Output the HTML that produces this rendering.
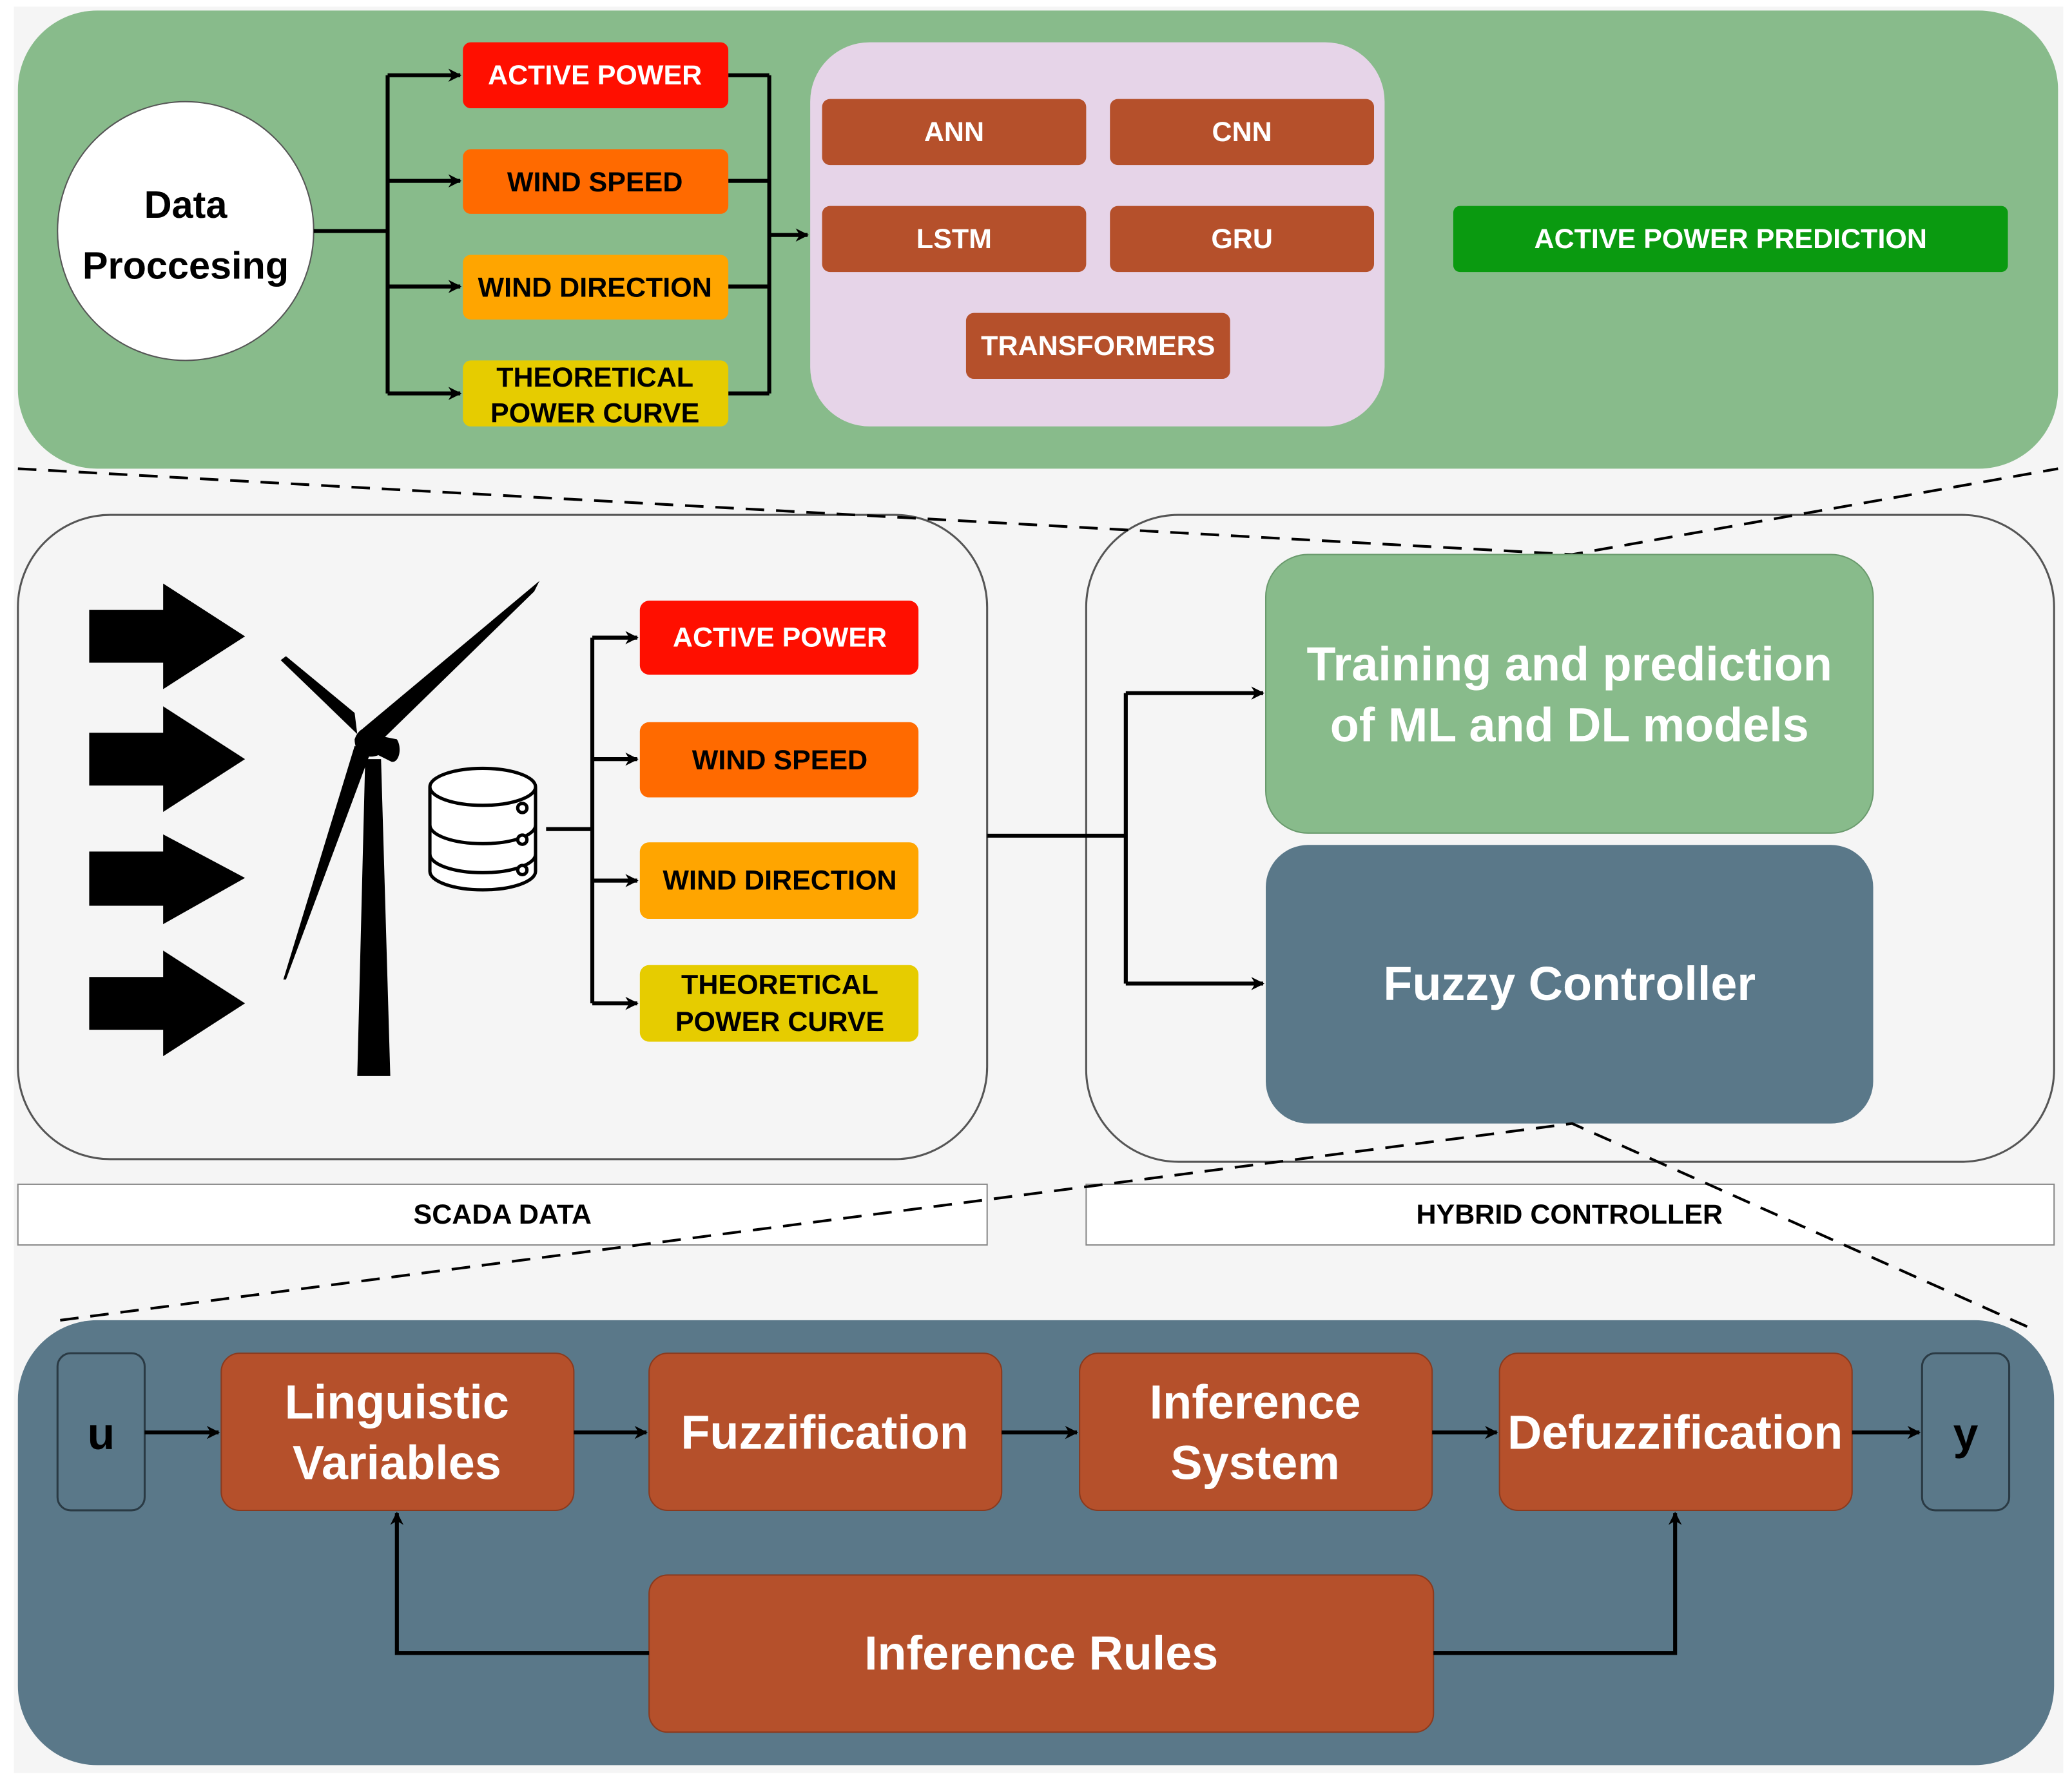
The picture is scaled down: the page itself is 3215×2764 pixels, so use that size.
<!DOCTYPE html>
<html><head><meta charset="utf-8"><style>
html,body{margin:0;padding:0;background:#fff;}
svg{display:block;}
text{font-family:"Liberation Sans",Arial,sans-serif;font-weight:bold;text-anchor:middle;dominant-baseline:central;}
</style></head><body>
<svg width="3215" height="2764" viewBox="0 0 1568 1349" xmlns="http://www.w3.org/2000/svg">
<defs>
<marker id="ah" markerWidth="10" markerHeight="10" refX="9" refY="5" orient="auto" markerUnits="userSpaceOnUse"><path d="M0,0 L10,5 L0,10 L3,5 Z" fill="#000"/></marker>
</defs>
<rect x="10" y="5" width="1552" height="1338" fill="#f5f5f5"/>
<rect x="13" y="8" width="1545" height="347" rx="60" fill="#88bb8b"/>
<ellipse cx="140" cy="175" rx="97" ry="98" fill="#fff" stroke="#555" stroke-width="1"/>
<text x="140" y="155" font-size="29">Data</text>
<text x="140" y="201" font-size="29">Proccesing</text>
<g stroke="#000" stroke-width="3" fill="none">
<path d="M237,175 H293 M293,57 V298"/>
<path d="M293,57 H348" marker-end="url(#ah)"/>
<path d="M293,137 H348" marker-end="url(#ah)"/>
<path d="M293,217 H348" marker-end="url(#ah)"/>
<path d="M293,298 H348" marker-end="url(#ah)"/>
<path d="M551,57 H582 M551,137 H582 M551,217 H582 M551,298 H582 M582,57 V298"/>
<path d="M582,178 H611" marker-end="url(#ah)"/>
</g>
<rect x="350" y="32" width="201" height="50" rx="6" fill="#ff0f00"/>
<text x="450" y="57" font-size="21" fill="#fff">ACTIVE POWER</text>
<rect x="350" y="113" width="201" height="49" rx="6" fill="#ff6a00"/>
<text x="450" y="138" font-size="21">WIND SPEED</text>
<rect x="350" y="193" width="201" height="49" rx="6" fill="#ffa500"/>
<text x="450" y="218" font-size="21">WIND DIRECTION</text>
<rect x="350" y="273" width="201" height="50" rx="6" fill="#e6cc00"/>
<text x="450" y="286" font-size="21">THEORETICAL</text>
<text x="450" y="313" font-size="21">POWER CURVE</text>
<rect x="613" y="32" width="435" height="291" rx="45" fill="#e6d4e8"/>
<g fill="#b5502b">
<rect x="622" y="75" width="200" height="50" rx="6"/>
<rect x="840" y="75" width="200" height="50" rx="6"/>
<rect x="622" y="156" width="200" height="50" rx="6"/>
<rect x="840" y="156" width="200" height="50" rx="6"/>
<rect x="731" y="237" width="200" height="50" rx="6"/>
</g>
<g fill="#fff" font-size="21">
<text x="722" y="100">ANN</text>
<text x="940" y="100">CNN</text>
<text x="722" y="181">LSTM</text>
<text x="940" y="181">GRU</text>
<text x="831" y="262">TRANSFORMERS</text>
</g>
<rect x="1100" y="156" width="420" height="50" rx="5" fill="#0a9a10"/>
<text x="1310" y="181" font-size="21" fill="#fff">ACTIVE POWER PREDICTION</text>
<rect x="13" y="390" width="734" height="488" rx="70" fill="#f5f5f5" stroke="#555" stroke-width="1.5"/>
<rect x="822" y="390" width="733" height="490" rx="70" fill="#f5f5f5" stroke="#555" stroke-width="1.5"/>
<g stroke="#000" stroke-width="2" stroke-dasharray="14,9" fill="none">
<path d="M13,355 L1190,420 L1558,355"/>
</g>
<g fill="#000">
<path d="M67,462 H123 V442 L185,482 L123,522 V502 H67 Z"/>
<path d="M67,555 H123 V535 L185,575 L123,615 V595 H67 Z"/>
<path d="M67,645 H123 V632 L185,665 L123,700 V686 H67 Z"/>
<path d="M67,740 H123 V720 L185,760 L123,800 V780 H67 Z"/>
<path d="M270,815 L276,575 L288,575 L295,815 Z"/>
<path d="M268,560 C272,548 285,548 290,558 L300,560 C304,566 302,578 296,577 L286,572 C278,575 268,572 268,560 Z"/>
<path d="M270,556 L212,500 L216,497 L268,540 Z"/>
<path d="M274,552 L408,440 L404,448 L284,565 Z"/>
<path d="M268,565 L214,742 L216,742 L280,570 Z"/>
</g>
<g stroke="#000" stroke-width="2.5" fill="#fff">
<path d="M325,596 V660 A40,14 0 0 0 405,660 V596"/>
<ellipse cx="365" cy="596" rx="40" ry="14"/>
<path d="M325,625 A40,14 0 0 0 405,625 M325,647 A40,14 0 0 0 405,647" fill="none"/>
<circle cx="395" cy="612" r="3.5"/><circle cx="395" cy="636" r="3.5"/><circle cx="395" cy="659" r="3.5"/>
</g>
<g stroke="#000" stroke-width="3" fill="none">
<path d="M413,628 H448 M448,483 V760"/>
<path d="M448,483 H482" marker-end="url(#ah)"/>
<path d="M448,575 H482" marker-end="url(#ah)"/>
<path d="M448,667 H482" marker-end="url(#ah)"/>
<path d="M448,760 H482" marker-end="url(#ah)"/>
<path d="M747,633 H852 M852,525 V745"/>
<path d="M852,525 H956" marker-end="url(#ah)"/>
<path d="M852,745 H956" marker-end="url(#ah)"/>
</g>
<rect x="484" y="455" width="211" height="56" rx="7" fill="#ff0f00"/>
<text x="590" y="483" font-size="21" fill="#fff">ACTIVE POWER</text>
<rect x="484" y="547" width="211" height="57" rx="7" fill="#ff6a00"/>
<text x="590" y="576" font-size="21">WIND SPEED</text>
<rect x="484" y="638" width="211" height="58" rx="7" fill="#ffa500"/>
<text x="590" y="667" font-size="21">WIND DIRECTION</text>
<rect x="484" y="731" width="211" height="58" rx="7" fill="#e6cc00"/>
<text x="590" y="746" font-size="21">THEORETICAL</text>
<text x="590" y="774" font-size="21">POWER CURVE</text>
<rect x="958" y="420" width="460" height="211" rx="32" fill="#88bb8b" stroke="#6a9a6d"/>
<text x="1188" y="503" font-size="36" fill="#fff">Training and prediction</text>
<text x="1188" y="549" font-size="36" fill="#fff">of ML and DL models</text>
<rect x="958" y="640" width="460" height="211" rx="32" fill="#5a7889"/>
<text x="1188" y="745" font-size="36" fill="#fff">Fuzzy Controller</text>
<rect x="13" y="897" width="734" height="46" fill="#fff" stroke="#888"/>
<text x="380" y="920" font-size="21">SCADA DATA</text>
<rect x="822" y="897" width="733" height="46" fill="#fff" stroke="#888"/>
<text x="1188" y="920" font-size="21">HYBRID CONTROLLER</text>
<g stroke="#000" stroke-width="2" stroke-dasharray="14,9" fill="none">
<path d="M45,1000 L1190,851 L1535,1005"/>
</g>
<rect x="13" y="1000" width="1542" height="337" rx="60" fill="#5a7889"/>
<rect x="43" y="1025" width="66" height="119" rx="10" fill="#5a7889" stroke="#2a3a44" stroke-width="1.5"/>
<text x="76" y="1086" font-size="34" fill="#000">u</text>
<rect x="1455" y="1025" width="66" height="119" rx="10" fill="#5a7889" stroke="#2a3a44" stroke-width="1.5"/>
<text x="1488" y="1086" font-size="34" fill="#000">y</text>
<g fill="#b5502b" stroke="#8a3a1e" stroke-width="1">
<rect x="167" y="1025" width="267" height="119" rx="14"/>
<rect x="491" y="1025" width="267" height="119" rx="14"/>
<rect x="817" y="1025" width="267" height="119" rx="14"/>
<rect x="1135" y="1025" width="267" height="119" rx="14"/>
<rect x="491" y="1193" width="594" height="119" rx="14"/>
</g>
<g fill="#fff" font-size="36">
<text x="300" y="1062">Linguistic</text>
<text x="300" y="1108">Variables</text>
<text x="624" y="1085">Fuzzification</text>
<text x="950" y="1062">Inference</text>
<text x="950" y="1108">System</text>
<text x="1268" y="1085">Defuzzification</text>
<text x="788" y="1252">Inference Rules</text>
</g>
<g stroke="#000" stroke-width="3" fill="none">
<path d="M109,1085 H165" marker-end="url(#ah)"/>
<path d="M434,1085 H489" marker-end="url(#ah)"/>
<path d="M758,1085 H815" marker-end="url(#ah)"/>
<path d="M1084,1085 H1133" marker-end="url(#ah)"/>
<path d="M1402,1085 H1453" marker-end="url(#ah)"/>
<path d="M491,1252 H300 V1146" marker-end="url(#ah)"/>
<path d="M1085,1252 H1268 V1146" marker-end="url(#ah)"/>
</g>
</svg>
</body></html>
